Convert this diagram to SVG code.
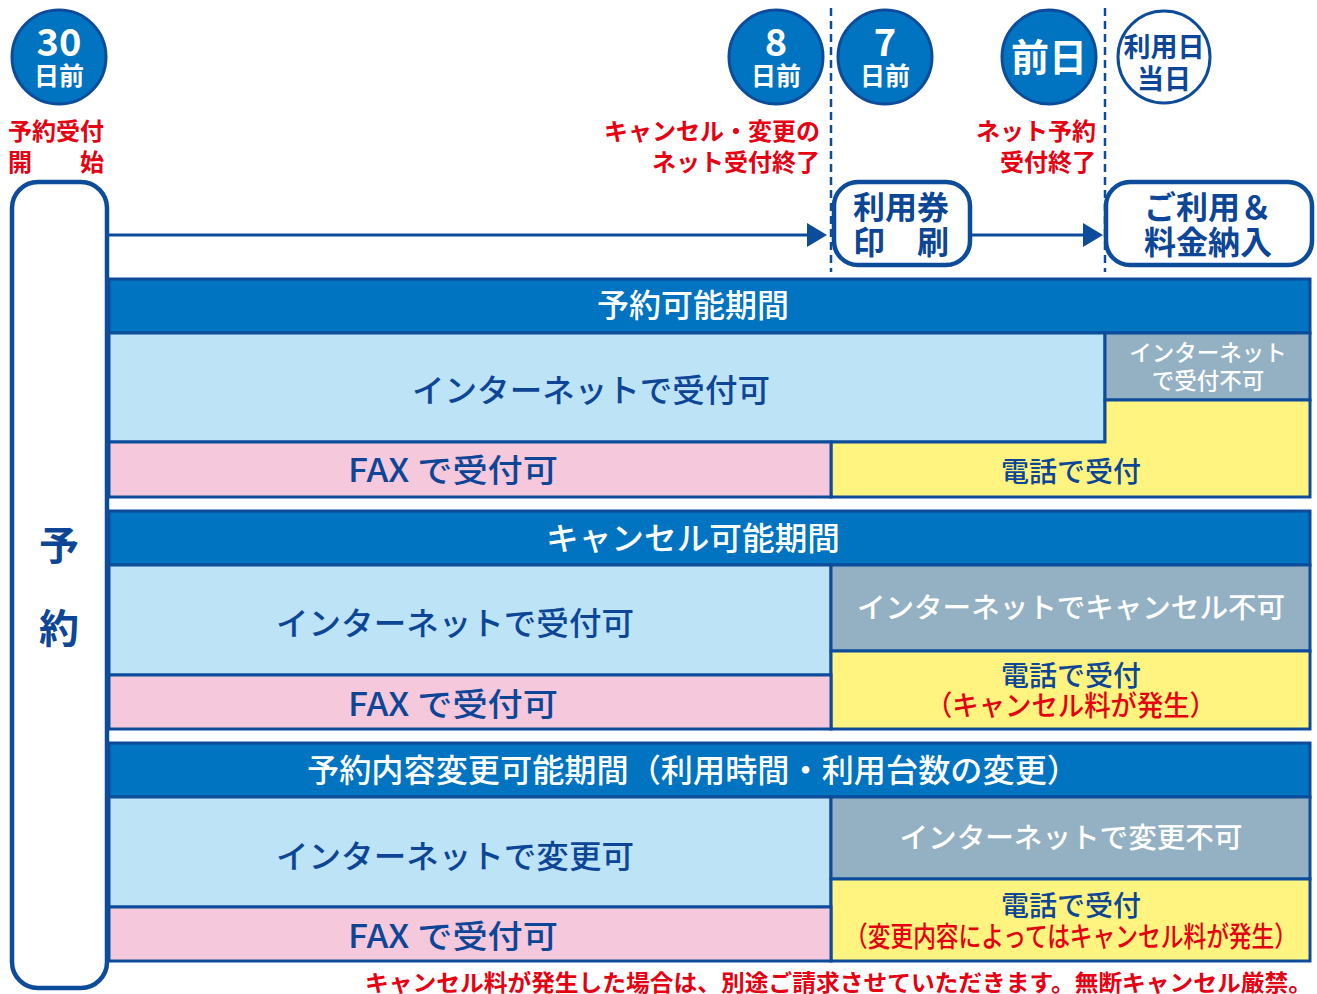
<svg xmlns="http://www.w3.org/2000/svg" width="1317" height="994" viewBox="0 0 1317 994">
<defs>
<style>
.jp{font-family:"Noto Sans CJK JP","Noto Sans",sans-serif}
.b{font-weight:700}
.m{font-weight:500}
.red{fill:#E60012}
.dk{fill:#0D4696}
.wh{fill:#FFFFFF}
.circ{fill:#0073C1;stroke:#0D4C9B;stroke-width:3}
.circw{fill:#FFFFFF;stroke:#0D4C9B;stroke-width:3}
.hdr{fill:#0073C1;stroke:#0D4C9B;stroke-width:3}
.lb{fill:#BDE3F7;stroke:#0D4C9B;stroke-width:3}
.pk{fill:#F5C8DC;stroke:#0D4C9B;stroke-width:3}
.yl{fill:#FFF47F;stroke:#0D4C9B;stroke-width:3}
.gr{fill:#93B1C3;stroke:#0D4C9B;stroke-width:3}
.box{fill:#FFFFFF;stroke:#0D4C9B;stroke-width:4.5}
.dash{stroke:#0D4C9B;stroke-width:2.5;stroke-dasharray:8 5;fill:none}
.conn{stroke:#0D4C9B;stroke-width:3;fill:none}
.ah{fill:#0D4C9B}
</style>
</defs>
<rect width="1317" height="994" fill="#FFFFFF"/>

<!-- dashed guide lines -->
<g id="guides">
<line class="dash" x1="831" y1="8" x2="831" y2="272"/>
<line class="dash" x1="1105" y1="8" x2="1105" y2="272"/>
</g>

<!-- day markers -->
<g id="d30">
<circle class="circ" cx="59" cy="57" r="47"/>
<text class="jp b wh" x="59" y="56" font-size="38" text-anchor="middle">30</text>
<text class="jp b wh" x="59" y="85" font-size="25" text-anchor="middle">日前</text>
</g>
<g id="d8">
<circle class="circ" cx="776" cy="57" r="47"/>
<text class="jp b wh" x="776" y="56" font-size="38" text-anchor="middle">8</text>
<text class="jp b wh" x="776" y="85" font-size="25" text-anchor="middle">日前</text>
</g>
<g id="d7">
<circle class="circ" cx="885" cy="57" r="47"/>
<text class="jp b wh" x="885" y="56" font-size="38" text-anchor="middle">7</text>
<text class="jp b wh" x="885" y="85" font-size="25" text-anchor="middle">日前</text>
</g>
<g id="d1">
<circle class="circ" cx="1049" cy="57" r="47"/>
<text class="jp b wh" x="1049" y="71" font-size="38" text-anchor="middle">前日</text>
</g>
<g id="d0">
<circle class="circw" cx="1164" cy="57" r="46"/>
<text class="jp b dk" x="1164" y="57" font-size="27" text-anchor="middle">利用日</text>
<text class="jp b dk" x="1164" y="89" font-size="27" text-anchor="middle">当日</text>
</g>

<!-- red notes -->
<g id="note-start">
<text class="jp b red" x="8" y="140" font-size="24">予約受付</text>
<text class="jp b red" x="8" y="171" font-size="24">開　　始</text>
</g>
<g id="note-8">
<text class="jp b red" x="820" y="140" font-size="24" text-anchor="end">キャンセル・変更の</text>
<text class="jp b red" x="820" y="171" font-size="24" text-anchor="end">ネット受付終了</text>
</g>
<g id="note-1">
<text class="jp b red" x="1096" y="140" font-size="24" text-anchor="end">ネット予約</text>
<text class="jp b red" x="1096" y="171" font-size="24" text-anchor="end">受付終了</text>
</g>

<!-- connectors -->
<g id="connectors">
<line class="conn" x1="108" y1="235" x2="810" y2="235"/>
<polygon class="ah" points="807,223 827,235 807,247"/>
<line class="conn" x1="970" y1="235" x2="1086" y2="235"/>
<polygon class="ah" points="1083,223 1103,235 1083,247"/>
</g>

<!-- left reservation box -->
<g id="yoyaku">
<rect class="box" x="12" y="182" width="95" height="806" rx="26"/>
<text class="jp b dk" x="59" y="560" font-size="40" text-anchor="middle">予</text>
<text class="jp b dk" x="59" y="643" font-size="40" text-anchor="middle">約</text>
</g>

<!-- step boxes -->
<g id="print">
<rect class="box" x="834" y="182" width="136" height="83" rx="24"/>
<text class="jp b dk" x="901" y="219" font-size="32" text-anchor="middle">利用券</text>
<text class="jp b dk" x="901" y="254" font-size="32" text-anchor="middle">印　刷</text>
</g>
<g id="use">
<rect class="box" x="1106" y="182" width="206" height="83" rx="24"/>
<text class="jp b dk" x="1208" y="219" font-size="32" text-anchor="middle">ご利用＆</text>
<text class="jp b dk" x="1208" y="254" font-size="32" text-anchor="middle">料金納入</text>
</g>

<!-- section 1 -->
<g id="sec1">
<rect class="hdr" x="109" y="279" width="1201" height="54"/>
<text class="jp m wh" x="693" y="317" font-size="32" text-anchor="middle">予約可能期間</text>
<rect class="lb" x="109" y="333" width="996" height="109"/>
<text class="jp m dk" x="591" y="402" font-size="32" text-anchor="middle" textLength="358" lengthAdjust="spacingAndGlyphs">インターネットで受付可</text>
<rect class="gr" x="1105" y="333" width="205" height="67"/>
<text class="jp m wh" x="1208" y="361" font-size="22.5" text-anchor="middle">インターネット</text>
<text class="jp m wh" x="1208" y="389" font-size="22.5" text-anchor="middle">で受付不可</text>
<polygon class="yl" points="831,442 1105,442 1105,400 1310,400 1310,497 831,497"/>
<text class="jp m dk" x="1071" y="482" font-size="28" text-anchor="middle">電話で受付</text>
<rect class="pk" x="109" y="442" width="722" height="55"/>
<text class="jp m dk" x="453" y="482" font-size="32" text-anchor="middle" textLength="210" lengthAdjust="spacingAndGlyphs">FAX で受付可</text>
</g>

<!-- section 2 -->
<g id="sec2">
<rect class="hdr" x="109" y="511" width="1201" height="54"/>
<text class="jp m wh" x="693" y="550" font-size="32" text-anchor="middle" textLength="294" lengthAdjust="spacingAndGlyphs">キャンセル可能期間</text>
<rect class="lb" x="109" y="565" width="722" height="110"/>
<text class="jp m dk" x="455" y="635" font-size="32" text-anchor="middle" textLength="358" lengthAdjust="spacingAndGlyphs">インターネットで受付可</text>
<rect class="gr" x="831" y="565" width="479" height="86"/>
<text class="jp m wh" x="1071" y="618" font-size="28.5" text-anchor="middle" textLength="428" lengthAdjust="spacingAndGlyphs">インターネットでキャンセル不可</text>
<rect class="yl" x="831" y="651" width="479" height="78"/>
<text class="jp m dk" x="1071" y="686" font-size="28" text-anchor="middle">電話で受付</text>
<text class="jp m red" x="1071" y="716" font-size="28" text-anchor="middle" textLength="290" lengthAdjust="spacingAndGlyphs">（キャンセル料が発生）</text>
<rect class="pk" x="109" y="675" width="722" height="54"/>
<text class="jp m dk" x="453" y="716" font-size="32" text-anchor="middle" textLength="210" lengthAdjust="spacingAndGlyphs">FAX で受付可</text>
</g>

<!-- section 3 -->
<g id="sec3">
<rect class="hdr" x="109" y="743" width="1201" height="54"/>
<text class="jp m wh" x="693" y="782" font-size="32" text-anchor="middle" textLength="772" lengthAdjust="spacingAndGlyphs">予約内容変更可能期間（利用時間・利用台数の変更）</text>
<rect class="lb" x="109" y="797" width="722" height="110"/>
<text class="jp m dk" x="455" y="868" font-size="32" text-anchor="middle" textLength="358" lengthAdjust="spacingAndGlyphs">インターネットで変更可</text>
<rect class="gr" x="831" y="797" width="479" height="82"/>
<text class="jp m wh" x="1071" y="848" font-size="28.5" text-anchor="middle" textLength="343" lengthAdjust="spacingAndGlyphs">インターネットで変更不可</text>
<rect class="yl" x="831" y="879" width="479" height="82"/>
<text class="jp m dk" x="1071" y="916" font-size="28" text-anchor="middle">電話で受付</text>
<text class="jp m red" x="1071" y="947" font-size="28" text-anchor="middle" textLength="452" lengthAdjust="spacingAndGlyphs">（変更内容によってはキャンセル料が発生）</text>
<rect class="pk" x="109" y="907" width="722" height="54"/>
<text class="jp m dk" x="453" y="948" font-size="32" text-anchor="middle" textLength="210" lengthAdjust="spacingAndGlyphs">FAX で受付可</text>
</g>

<!-- footer note -->
<g id="footer">
<text class="jp b red" x="365" y="991" font-size="23" textLength="947" lengthAdjust="spacingAndGlyphs">キャンセル料が発生した場合は、別途ご請求させていただきます。無断キャンセル厳禁。</text>
</g>
</svg>
